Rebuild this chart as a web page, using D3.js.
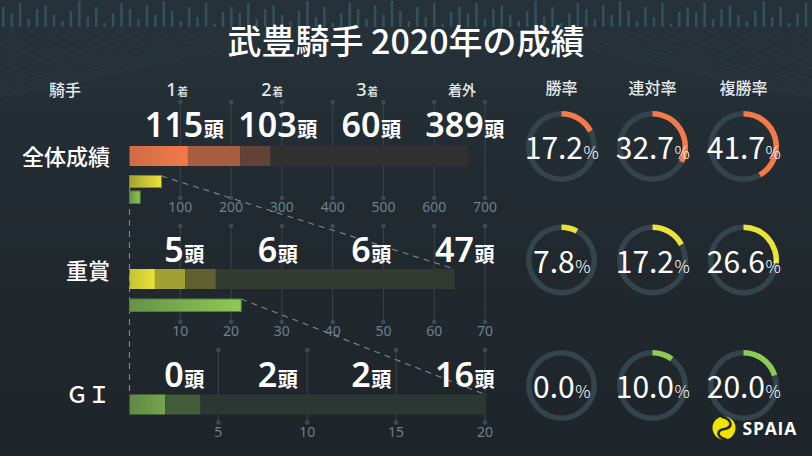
<!DOCTYPE html>
<html><head><meta charset="utf-8">
<script src="https://cdn.jsdelivr.net/npm/d3@7"></script>
<style>
html,body{margin:0;padding:0;background:#20282e;}
svg{display:block;font-family:"Noto Sans CJK JP","Noto Sans",sans-serif;}
</style></head><body>
<svg id="c" width="812" height="456"></svg>
<script>
// ---------- data ----------
const title = "武豊騎手 2020年の成績";
const categories = ["全体成績", "重賞", "ＧＩ"];
const rankNums = ["1", "2", "3", ""];
const rankSuffix = ["着", "着", "着", "着外"];
const overallCounts = [115, 103, 60, 389];
const gradedCounts = [5, 6, 6, 47];
const g1Counts = [0, 2, 2, 16];
const rateLabels = ["勝率", "連対率", "複勝率"];
const overallRates = [17.2, 32.7, 41.7];
const gradedRates = [7.8, 17.2, 26.6];
const g1Rates = [0.0, 10.0, 20.0];
const scaleMax = [700, 70, 20];
const overallTicks = [100, 200, 300, 400, 500, 600, 700];
const gradedTicks = [10, 20, 30, 40, 50, 60, 70];
const g1Ticks = [5, 10, 15, 20];
const overallSubBars = [63, 21];   // 重賞 total, GI total (on overall scale)
const gradedSubBars = [22];        // GI total (on graded scale)
const decoHeights = [20, 14, 24, 8, 18, 22, 12, 6, 16, 26, 10, 20, 4, 14, 24, 18, 8, 22, 12, 26, 16, 6, 20, 10, 24, 3, 15];

// ---------- style / layout ----------
const BG = "#20282e";
const rowColors = ["#f47a4a", "#ebe336", "#8dcb55"];
const shade = [1, 0.64, 0.31, 0.09];
const X0 = 129.5, X1 = 485, BAR_H = 20;
const layout = [
  {barY: 146, gridTop: 102, gridBot: 198, tickY: 211.5, labelY: 137, catY: 155},
  {barY: 269, gridTop: 226, gridBot: 322, tickY: 336, labelY: 262, catY: 269},
  {barY: 394.5, gridTop: 350, gridBot: 422.5, tickY: 436.5, labelY: 386.5, catY: 393}
];
const labelCols = [184, 277.5, 371, 464.5];
const headCols = [177, 272, 367, 462];
const donutX = [561.5, 652.5, 743.5];
const donutY = [146.5, 260, 385.5];
const NUM_FONT = "'Noto Sans','Noto Sans CJK JP',sans-serif";

const counts = [overallCounts, gradedCounts, g1Counts];
const rates = [overallRates, gradedRates, g1Rates];
const ticks = [overallTicks, gradedTicks, g1Ticks];

const svg = d3.select("#c");
const defs = svg.append("defs");

// two-part label (big + small) centred on cx, drawn as two texts
function pairLabel(parent, cx, y, big, bigSize, small, smallSize, weight, smallWeight, color, bigFont) {
  const a = parent.append("text").attr("y", y).attr("fill", color).attr("font-size", bigSize).attr("font-weight", weight).text(big);
  if (bigFont) a.attr("font-family", bigFont);
  const b = parent.append("text").attr("y", y).attr("fill", color).attr("font-size", smallSize).attr("font-weight", smallWeight).text(small);
  const wa = big === "" ? 0 : a.node().getComputedTextLength();
  const wb = b.node().getComputedTextLength();
  const x0 = cx - (wa + wb) / 2;
  a.attr("x", x0);
  b.attr("x", x0 + wa + 0.5);
  if (big === "") a.remove();
}

// background
const bgGrad = defs.append("linearGradient").attr("id", "bgg").attr("x1", 0).attr("y1", 0).attr("x2", 0).attr("y2", 1);
bgGrad.append("stop").attr("offset", 0).attr("stop-color", "#26323a");
bgGrad.append("stop").attr("offset", 0.45).attr("stop-color", "#212a30");
bgGrad.append("stop").attr("offset", 1).attr("stop-color", "#1e252a");
svg.append("rect").attr("width", 812).attr("height", 456).attr("fill", "url(#bgg)");

// decorative streaks
const deco = svg.append("g");
const streaks = d3.range(0, 14);
deco.selectAll("line.l").data(streaks).join("line")
  .attr("x1", function (d) { return 300 - d * 22; }).attr("y1", 30)
  .attr("x2", function (d) { return 40 - d * 22; }).attr("y2", function (d) { return 90 + d * 4; })
  .attr("stroke", "#2c3840").attr("stroke-width", 2).attr("opacity", 0.6);
deco.selectAll("line.r").data(streaks).join("line")
  .attr("x1", function (d) { return 510 + d * 22; }).attr("y1", 30)
  .attr("x2", function (d) { return 770 + d * 22; }).attr("y2", function (d) { return 90 + d * 4; })
  .attr("stroke", "#2c3840").attr("stroke-width", 2).attr("opacity", 0.6);
const decoX = d3.range(2, 812, 8.45);
deco.selectAll("rect.v").data(decoX).join("rect")
  .attr("x", function (d) { return d; }).attr("width", 2.5)
  .attr("y", function (d, i) { return 27 - decoHeights[i % decoHeights.length]; })
  .attr("height", function (d, i) { return decoHeights[i % decoHeights.length]; })
  .attr("fill", "#3a5661").attr("opacity", 0.85);

// title
svg.append("text").attr("x", 406).attr("y", 54).attr("text-anchor", "middle")
  .attr("fill", "#ffffff").attr("font-size", 34).attr("font-weight", 500).text(title);

// headers
svg.append("text").attr("x", 65).attr("y", 96).attr("text-anchor", "middle")
  .attr("fill", "#e6e9eb").attr("font-size", 16).attr("font-weight", 500).text("騎手");
rankNums.forEach(function (n, i) {
  if (n) pairLabel(svg, headCols[i], 95.5, n, 18, rankSuffix[i], 11, 500, 500, "#e6e9eb", NUM_FONT);
  else svg.append("text").attr("x", headCols[i]).attr("y", 95).attr("text-anchor", "middle")
    .attr("fill", "#e6e9eb").attr("font-size", 14).attr("font-weight", 500).text(rankSuffix[i]);
});
rateLabels.forEach(function (l, i) {
  svg.append("text").attr("x", donutX[i]).attr("y", 94).attr("text-anchor", "middle")
    .attr("fill", "#e6e9eb").attr("font-size", 16).attr("font-weight", 500).text(l);
});

// scales
const scales = scaleMax.map(function (m) { return d3.scaleLinear().domain([0, m]).range([X0, X1]); });

// gridlines + tick labels
layout.forEach(function (L, r) {
  const g = svg.append("g");
  const tk = ticks[r];
  const sx = scales[r];
  g.selectAll("line").data(tk).join("line")
    .attr("x1", function (v) { return sx(v); }).attr("x2", function (v) { return sx(v); })
    .attr("y1", L.gridTop).attr("y2", L.gridBot)
    .attr("stroke", "#39454d").attr("stroke-width", 1);
  g.selectAll("circle.t").data(tk).join("circle").attr("class", "t")
    .attr("cx", function (v) { return sx(v); }).attr("cy", L.gridTop).attr("r", 2.3).attr("fill", "#3d4a52");
  g.selectAll("circle.b").data(tk).join("circle").attr("class", "b")
    .attr("cx", function (v) { return sx(v); }).attr("cy", L.gridBot).attr("r", 2.3).attr("fill", "#3d4a52");
  g.selectAll("text").data(tk).join("text")
    .attr("x", function (v) { return sx(v); }).attr("y", L.tickY).attr("text-anchor", "middle")
    .attr("fill", "#6b808d").attr("font-size", 14).attr("font-family", "'Noto Sans',sans-serif")
    .text(function (v) { return v; });
});

// connectors (dashed)
const dash = svg.append("g").attr("stroke", "#7c8991").attr("stroke-width", 1.1).attr("stroke-dasharray", "6,5").attr("fill", "none");
dash.append("line").attr("x1", X0).attr("x2", X0).attr("y1", 187).attr("y2", layout[2].barY);
dash.append("line")
  .attr("x1", scales[0](overallSubBars[0])).attr("y1", 176)
  .attr("x2", scales[1](d3.sum(gradedCounts))).attr("y2", layout[1].barY);
dash.append("line")
  .attr("x1", scales[1](gradedSubBars[0])).attr("y1", 299)
  .attr("x2", scales[2](d3.sum(g1Counts))).attr("y2", layout[2].barY);

// stacked bars
function blend(c, t) { return d3.interpolateRgb(BG, c)(t); }
layout.forEach(function (L, r) {
  const col = rowColors[r];
  const gid = "grad" + r;
  const sx = scales[r];
  const vals = counts[r];
  const firstNZ = vals.findIndex(function (v) { return v > 0; });
  const gr = defs.append("linearGradient").attr("id", gid);
  gr.append("stop").attr("offset", 0).attr("stop-color", blend(col, firstNZ === 0 ? 0.82 : shade[firstNZ] * 0.92));
  gr.append("stop").attr("offset", 1).attr("stop-color", blend(col, firstNZ === 0 ? 1 : Math.min(1, shade[firstNZ] * 1.2)));
  let cum = 0;
  const segs = vals.map(function (v, i) { const s = {a: cum, b: cum + v, i: i}; cum += v; return s; });
  svg.append("g").selectAll("rect").data(segs).join("rect")
    .attr("x", function (s) { return sx(s.a); })
    .attr("width", function (s) { return sx(s.b) - sx(s.a); })
    .attr("y", L.barY).attr("height", BAR_H)
    .attr("fill", function (s) { return s.i === firstNZ ? "url(#" + gid + ")" : blend(col, shade[s.i]); });
  vals.forEach(function (v, i) {
    pairLabel(svg, labelCols[i], L.labelY, String(v), 34, "頭", 20, 600, 700, "#ffffff", NUM_FONT);
  });
  svg.append("text").attr("x", 110).attr("y", L.catY).attr("text-anchor", "end")
    .attr("dominant-baseline", "central").attr("fill", "#ffffff").attr("font-size", 22).attr("font-weight", 500).text(categories[r]);
});

// sub bars (totals of lower categories on upper scale)
function subGrad(id, col) {
  const gr = defs.append("linearGradient").attr("id", id);
  gr.append("stop").attr("offset", 0).attr("stop-color", blend(col, 0.65));
  gr.append("stop").attr("offset", 1).attr("stop-color", col);
}
subGrad("sy", rowColors[1]);
subGrad("sg", rowColors[2]);
const subs = [
  {v: overallSubBars[0], s: 0, y: 175.5, h: 12, f: "url(#sy)", st: blend(rowColors[1], 0.5)},
  {v: overallSubBars[1], s: 0, y: 191, h: 12.5, f: "url(#sg)", st: blend(rowColors[2], 0.5)},
  {v: gradedSubBars[0], s: 1, y: 299, h: 12.5, f: "url(#sg)", st: blend(rowColors[2], 0.5)}
];
svg.append("g").selectAll("rect").data(subs).join("rect")
  .attr("x", function (o) { return scales[o.s](0); })
  .attr("width", function (o) { return scales[o.s](o.v) - scales[o.s](0); })
  .attr("y", function (o) { return o.y; }).attr("height", function (o) { return o.h; })
  .attr("fill", function (o) { return o.f; }).attr("stroke", function (o) { return o.st; }).attr("stroke-width", 1);

// donuts
const arcBg = d3.arc().innerRadius(30).outerRadius(35.5).startAngle(0).endAngle(2 * Math.PI);
const arcFg = d3.arc().innerRadius(30).outerRadius(35.5).startAngle(0).endAngle(function (o) { return o.end; });
rates.forEach(function (rowR, r) {
  rowR.forEach(function (v, c) {
    const g = svg.append("g").attr("transform", "translate(" + donutX[c] + "," + donutY[r] + ")");
    g.append("path").attr("d", arcBg({})).attr("fill", "#34444c");
    if (v > 0) g.append("path").attr("d", arcFg({end: 2 * Math.PI * v / 100})).attr("fill", rowColors[r]);
    pairLabel(g, 0, 12.5, v.toFixed(1), 30, "%", 17, 400, 300, "#ffffff");
  });
});

// logo
const logo = svg.append("g");
logo.append("circle").attr("cx", 724).attr("cy", 428).attr("r", 11.5).attr("fill", "#f3e400");
logo.append("path").attr("d", "M721,416.5 C733,419 733,428 724.5,429 C716,430 716,437 727,440")
  .attr("stroke", BG).attr("stroke-width", 2.6).attr("fill", "none");
logo.append("text").attr("x", 742.5).attr("y", 434.5).attr("fill", "#ffffff").attr("font-size", 17.5)
  .attr("font-weight", 700).attr("letter-spacing", 0.8).attr("font-family", "'Open Sans','Noto Sans',sans-serif").text("SPAIA");
</script>
</body></html>
